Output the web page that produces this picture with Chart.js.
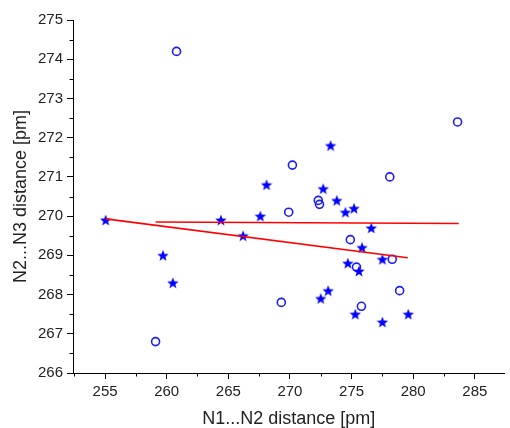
<!DOCTYPE html>
<html>
<head>
<meta charset="utf-8">
<script src="https://cdn.jsdelivr.net/npm/chart.js@4.4.1/dist/chart.umd.min.js"></script>
<style>
  html, body { margin: 0; padding: 0; background: #fff; }
  #wrap { width: 510px; height: 428px; }
</style>
</head>
<body>
<div id="wrap"><canvas id="plot" width="510" height="428"></canvas></div>
<script>
// open circles
const circleX = [260.8, 270.2, 283.6, 278.1, 272.3, 272.4, 269.9, 269.3, 259.1, 274.9, 275.4, 278.3, 278.9, 275.8];
const circleY = [274.2, 271.3, 272.4, 271.0, 270.4, 270.3, 270.1, 267.8, 266.8, 269.4, 268.7, 268.9, 268.1, 267.7];

// filled stars
const starX = [255.05, 259.7, 260.5, 264.4, 266.2, 267.6, 268.1, 272.7, 273.3, 273.8, 274.5, 275.2,
               276.6, 275.85, 274.7, 275.6, 277.5, 273.1, 272.5, 275.3, 277.5, 279.6];
const starY = [269.9, 269.0, 268.3, 269.9, 269.5, 270.0, 270.8, 270.7, 271.8, 270.4, 270.1, 270.2,
               269.7, 269.2, 268.8, 268.6, 268.9, 268.1, 267.9, 267.5, 267.3, 267.5];

// linear fits (end points)
const fitStarX = [255.05, 279.56];
const fitStarY = [269.93, 268.94];
const fitCircleX = [259.1, 283.7];
const fitCircleY = [269.85, 269.81];

const xTicks = [255, 260, 265, 270, 275, 280, 285];
const yTicks = [266, 267, 268, 269, 270, 271, 272, 273, 274, 275];

const FONT = "'Liberation Sans', Arial, sans-serif";
const TEXT = '#222';

function pts(xs, ys) {
    return xs.map((x, i) => ({x: x, y: ys[i]}));
}

// filled five point star as point style
function makeStar(size, color) {
    const c = document.createElement('canvas');
    c.width = size; c.height = size;
    const g = c.getContext('2d');
    const cx = size / 2, cy = size / 2 + 0.6;
    const ro = size / 2, ri = ro * 0.42;
    g.beginPath();
    for (let i = 0; i < 10; i++) {
        const r = i % 2 ? ri : ro;
        const a = -Math.PI / 2 + i * Math.PI / 5;
        const px = cx + r * Math.cos(a), py = cy + r * Math.sin(a);
        if (i == 0) g.moveTo(px, py); else g.lineTo(px, py);
    }
    g.closePath();
    g.fillStyle = color;
    g.fill();
    return c;
}
const starImg = makeStar(12, '#0000ff');

// minor ticks, half way between the major ones
const minorTicks = {
    id: 'minorTicks',
    afterDraw: function(chart) {
        const ctx = chart.ctx;
        const xs = chart.scales.x, ys = chart.scales.y;
        ctx.save();
        ctx.strokeStyle = '#000';
        ctx.lineWidth = 1;
        ctx.beginPath();
        for (let v = 252.5; v <= xs.max; v += 5) {
            const p = Math.round(xs.getPixelForValue(v)) + 0.5;
            ctx.moveTo(p, xs.top);
            ctx.lineTo(p, xs.top + 3.5);
        }
        for (let v = 266.5; v < ys.max; v += 1) {
            const p = Math.round(ys.getPixelForValue(v)) + 0.5;
            ctx.moveTo(ys.right, p);
            ctx.lineTo(ys.right - 3.5, p);
        }
        ctx.stroke();
        ctx.restore();
    }
};

new Chart(document.getElementById('plot'), {
    type: 'scatter',
    data: {
        datasets: [
            {
                type: 'line', data: pts(fitStarX, fitStarY), showLine: true,
                borderColor: '#ff0000', borderWidth: 1.6, pointRadius: 0, fill: false
            },
            {
                type: 'line', data: pts(fitCircleX, fitCircleY), showLine: true,
                borderColor: '#ff0000', borderWidth: 1.6, pointRadius: 0, fill: false
            },
            {
                data: pts(starX, starY), pointStyle: starImg,
                borderColor: '#0000ff', backgroundColor: '#0000ff'
            },
            {
                data: pts(circleX, circleY), pointStyle: 'circle', pointRadius: 4,
                borderWidth: 1.6, borderColor: '#1a1aff', backgroundColor: 'rgba(0,0,0,0)'
            }
        ]
    },
    options: {
        responsive: false,
        animation: false,
        layout: { padding: { top: 20, right: 0, bottom: 0, left: 0 } },
        plugins: { legend: { display: false }, tooltip: { enabled: false } },
        scales: {
            x: {
                type: 'linear', min: 252.4, max: 287.4,
                afterFit: s => { s.height = 55; },
                afterBuildTicks: s => { s.ticks = xTicks.map(v => ({value: v})); },
                border: { display: true, color: '#000', width: 1 },
                grid: { drawOnChartArea: false, drawTicks: true, tickLength: 6, color: '#000' },
                ticks: { color: TEXT, padding: 4, font: { family: FONT, size: 15 } },
                title: { display: true, text: 'N1...N2 distance [pm]', color: TEXT,
                         font: { family: FONT, size: 18, lineHeight: 1.0 }, padding: { top: 2, bottom: 0 } }
            },
            y: {
                type: 'linear', min: 266, max: 275,
                afterFit: s => { s.width = 73; },
                afterBuildTicks: s => { s.ticks = yTicks.map(v => ({value: v})); },
                border: { display: true, color: '#000', width: 1 },
                grid: { drawOnChartArea: false, drawTicks: true, tickLength: 6, color: '#000' },
                ticks: { color: TEXT, padding: 4, font: { family: FONT, size: 15 } },
                title: { display: true, text: 'N2...N3 distance [pm]', color: TEXT,
                         font: { family: FONT, size: 18 }, padding: { top: 10, bottom: 2 } }
            }
        }
    },
    plugins: [minorTicks]
});
</script>
</body>
</html>
